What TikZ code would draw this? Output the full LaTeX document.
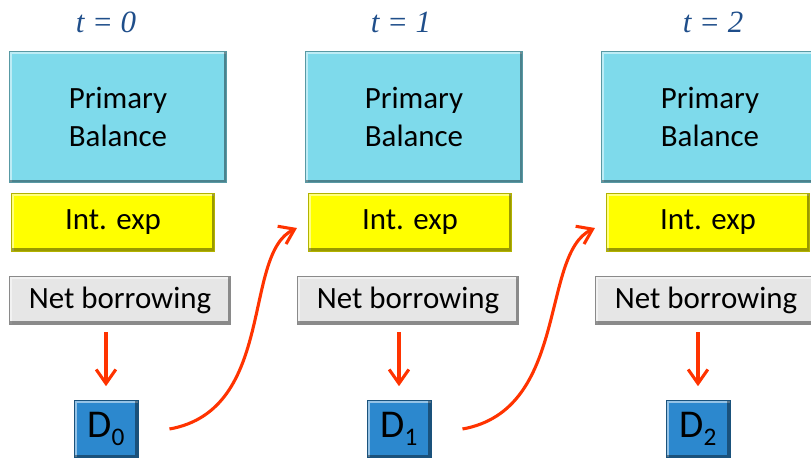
\documentclass[tikz,border=0pt]{standalone}
\usepackage{fontspec}
\setmainfont{Carlito}
\newfontfamily\timesit{Liberation Serif}
\usepackage{tikz}
\usetikzlibrary{positioning,arrows.meta}
\usepackage{xcolor}

\definecolor{pbcyan}{RGB}{126,218,235}
\definecolor{ieyellow}{RGB}{255,255,0}
\definecolor{nbgrey}{RGB}{230,230,230}
\definecolor{dblue}{RGB}{44,136,206}
\definecolor{tblue}{RGB}{31,78,138}
\definecolor{flowred}{RGB}{255,51,0}

\newcommand{\dsub}[1]{\raisebox{-6pt}{\fontsize{18}{18}\selectfont #1}}

\tikzset{
	bevel/.style={path picture={
		\draw[white,opacity=.5,line width=4pt] (path picture bounding box.south west) -- (path picture bounding box.north west) -- (path picture bounding box.north east);
		\draw[black,opacity=.4,line width=4pt] (path picture bounding box.north east) -- (path picture bounding box.south east) -- (path picture bounding box.south west);
	}},
	pbbox/.style={bevel,fill=pbcyan,draw=pbcyan!70!black,inner sep=0pt,minimum width=5.425cm,minimum height=3.275cm,align=center,font=\fontsize{22}{27}\selectfont},
	iebox/.style={bevel,fill=ieyellow,draw=ieyellow!70!black,inner sep=0pt,minimum width=5.075cm,minimum height=1.45cm,font=\fontsize{22}{27}\selectfont},
	nbbox/.style={bevel,fill=nbgrey,draw=nbgrey!60!black,inner sep=0pt,minimum width=5.525cm,minimum height=1.2cm,font=\fontsize{22}{27}\selectfont},
	dbox/.style={bevel,fill=dblue,draw=dblue!60!black,inner sep=0pt,minimum width=1.6cm,minimum height=1.425cm,font=\fontsize{28}{32}\selectfont},
	tlabel/.style={text=tblue,font=\fontsize{22}{26}\selectfont\timesit\itshape},
	flow/.style={draw=flowred,line width=2.2pt,-{Straight Barb[length=10pt,width=14pt]}}
}

\begin{document}
\begin{tikzpicture}[x=0.025cm,y=-0.025cm]
		\useasboundingbox (0,0) rectangle (811,459);
		\clip (0,0) rectangle (811,459);
		\foreach \i/\xt/\xp/\xi/\xn/\xd in {0/106/118/113/120/106, 1/401/414/410/408/399, 2/713/710/708/706/698}{
			\node[tlabel] (t\i) at (\xt,22) {t = \i};
			\node[pbbox] (pb\i) at (\xp,117) {Primary\\Balance};
			\node[iebox] (ie\i) at (\xi,222) {Int. exp};
			\node[nbbox] (nb\i) at (\xn,300) {Net borrowing};
			\node[dbox] (d\i) at (\xd,429) {D\dsub{\i}};
			\draw[flow,shorten <=0.2cm,shorten >=0.35cm] (nb\i.south -| d\i) -- (d\i);
		}
		% debt of one year feeds interest of the next
		\foreach \i/\j in {0/1,1/2}{
			\draw[flow] ([xshift=0.78cm]d\i.east) .. controls +(107,-19) and +(-55,26) .. ([xshift=-0.28cm,yshift=-0.15cm]ie\j.west);
		}
\end{tikzpicture}
\end{document}
